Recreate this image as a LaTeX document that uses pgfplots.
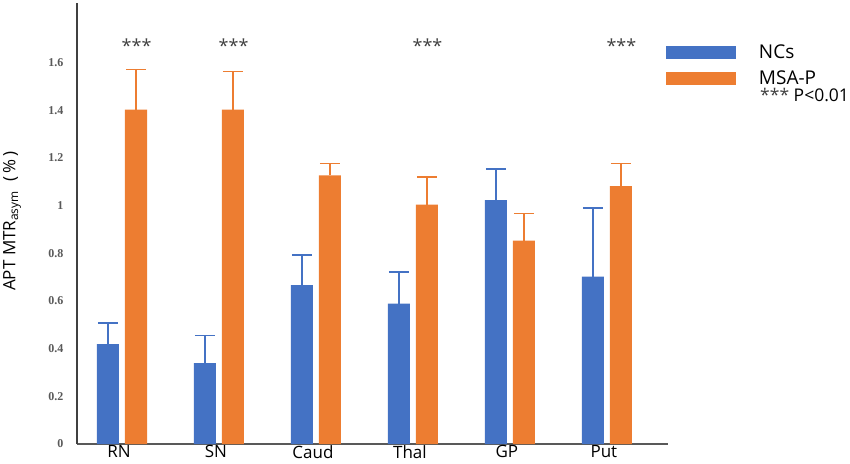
\documentclass[border=0pt]{standalone}
\usepackage{fontspec}
\setmainfont{Open Sans}
\newfontfamily\tickfont{Liberation Serif}
\usepackage{pgfplots}
\pgfplotsset{compat=1.18}
\definecolor{ncblue}{HTML}{4472C4}
\definecolor{msaorange}{HTML}{ED7D31}
\definecolor{axgray}{HTML}{404040}
\definecolor{tickgray}{HTML}{595959}
\begin{document}
\begin{tikzpicture}
\path[use as bounding box] (0,0) rectangle (850pt,463pt);
\begin{axis}[
  at={(77pt,19pt)}, anchor=south west,
  scale only axis, width=591pt, height=441pt,
  ybar=6pt, bar width=22pt,
  xmin=-0.464, xmax=5.63, ymin=0, ymax=1.85,
  axis x line=bottom, axis y line=left,
  x axis line style={-, draw=tickgray, line width=1.2pt},
  y axis line style={-, draw=axgray, line width=1.5pt},
  xtick={0,1,2,3,4,5},
  xticklabels={RN,SN,Caud,Thal,GP,Put},
  ytick={0,0.2,0.4,0.6,0.8,1,1.2,1.4,1.6},
  major tick length=0pt,
  tick style={draw=none},
  /pgf/number format/assume math mode=true,
  yticklabel style={font=\fontsize{12}{14}\selectfont\tickfont\bfseries, text=tickgray, xshift=-10pt},
  xticklabel style={font=\fontsize{17}{20}\selectfont, text=black, yshift=2pt, xshift=-3pt},
  ylabel={APT MTR\textsubscript{asym}\hspace{9pt}(\hspace{3pt}\%\hspace{3pt})},
  ylabel style={font=\fontsize{17}{20}\selectfont, at={(axis description cs:-0.11,0.505)}, anchor=center},
  clip=false,
  legend style={at={(0.9966,0.905)}, anchor=north west, draw=none, fill=none,
    inner sep=0pt, outer sep=0pt,
    font=\fontsize{19}{22}\selectfont, row sep=11pt,
    nodes={inner sep=0pt}},
  legend cell align=left,
  legend image code/.code={\fill[#1,draw=none] (0pt,-6.5pt) rectangle (70pt,6.5pt);},
]
\addplot[fill=ncblue, draw=none,
  error bars/.cd, y dir=plus, y explicit,
  error bar style={draw=ncblue, solid, line width=1.3pt},
  error mark options={rotate=90, draw=ncblue, solid, line width=1.3pt, mark size=10pt}]
  coordinates {
  (0,0.419) +- (0,0.088)
  (1,0.339) +- (0,0.117)
  (2,0.667) +- (0,0.126)
  (3,0.589) +- (0,0.133)
  (4,1.023) +- (0,0.130)
  (5,0.702) +- (0,0.288)
  };
\addlegendentry{\hspace{23pt}NCs}
\addplot[fill=msaorange, draw=none,
  error bars/.cd, y dir=plus, y explicit,
  error bar style={draw=msaorange, solid, line width=1.3pt},
  error mark options={rotate=90, draw=msaorange, solid, line width=1.3pt, mark size=10pt}]
  coordinates {
  (0,1.403) +- (0,0.168)
  (1,1.403) +- (0,0.161)
  (2,1.127) +- (0,0.050)
  (3,1.004) +- (0,0.116)
  (4,0.853) +- (0,0.113)
  (5,1.082) +- (0,0.095)
  };
\addlegendentry{\hspace{23pt}MSA-P}
\node[font=\fontsize{18}{20}\selectfont, text=axgray] at (axis cs:0.15,1.672) {***};
\node[font=\fontsize{18}{20}\selectfont, text=axgray] at (axis cs:1.15,1.672) {***};
\node[font=\fontsize{18}{20}\selectfont, text=axgray] at (axis cs:3.15,1.672) {***};
\node[font=\fontsize{18}{20}\selectfont, text=axgray] at (axis cs:5.15,1.672) {***};
\node[anchor=west, font=\fontsize{17.5}{20}\selectfont, inner sep=0pt] at (rel axis cs:1.1557,0.7914) {{\color{axgray}***} P<0.01};
\end{axis}
\end{tikzpicture}
\end{document}
